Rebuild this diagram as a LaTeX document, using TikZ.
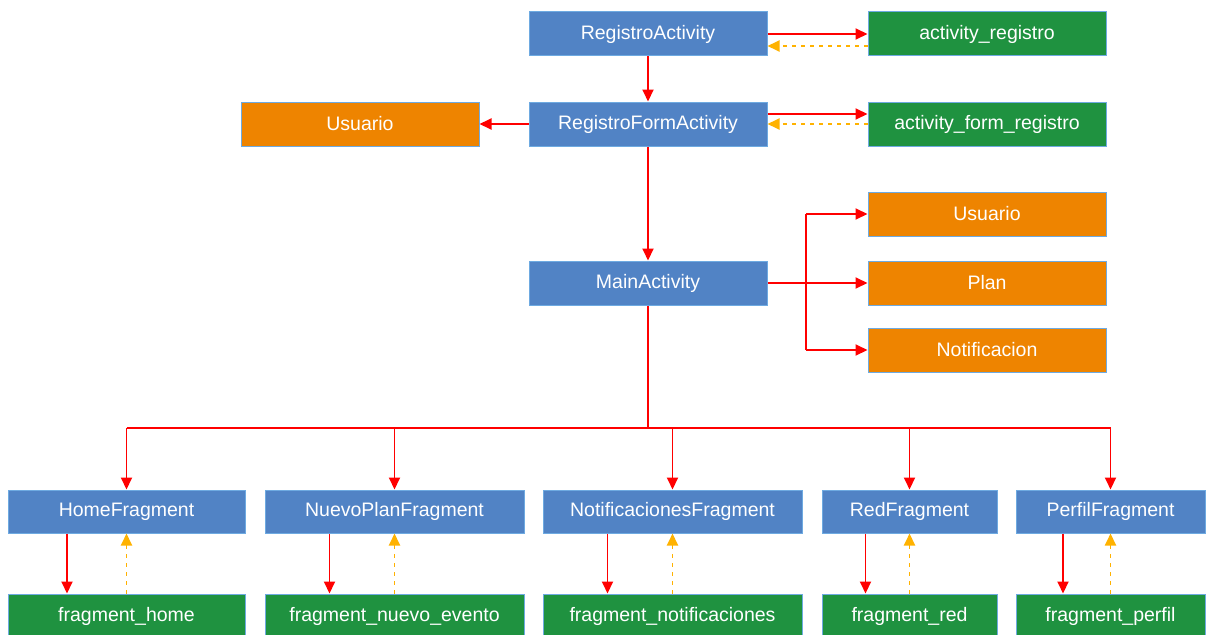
\documentclass[tikz,border=0pt]{standalone}
\usepackage{fontspec}
\setmainfont{Liberation Sans}
\usetikzlibrary{calc,arrows.meta}
\definecolor{cblue}{RGB}{81,131,197}
\definecolor{cgreen}{RGB}{31,146,64}
\definecolor{corange}{RGB}{238,132,0}
\definecolor{cborder}{RGB}{110,170,225}
\definecolor{cred}{RGB}{255,0,0}
\definecolor{camber}{RGB}{255,178,0}
\tikzset{
  box/.style={draw=cborder, line width=1pt, minimum height=44pt, inner sep=0pt,
    text=white, font=\fontsize{19.5}{22}\selectfont},
  bluebox/.style={box, fill=cblue},
  greenbox/.style={box, fill=cgreen},
  orangebox/.style={box, fill=corange},
  redline/.style={draw=cred, line width=1.9pt},
  redarrow/.style={redline, -{Triangle[length=12pt,width=11pt]}},
  dasharrow/.style={draw=camber, line width=1.9pt, dash pattern=on 4pt off 5pt, -{Triangle[length=12pt,width=11pt]}},
}
\begin{document}
\begin{tikzpicture}[x=1pt,y=-1pt]
\useasboundingbox (0,0) rectangle (1214,634);
% top section
\node[bluebox, minimum width=238pt] (ra) at (648,34) {RegistroActivity};
\node[greenbox, minimum width=238pt] (ar) at (987,34) {activity\_registro};
\node[bluebox, minimum width=238pt] (rfa) at (648,124) {RegistroFormActivity};
\node[orangebox, minimum width=238pt] (usu1) at (360,124) {Usuario};
\node[greenbox, minimum width=238pt] (afr) at (987,124) {activity\_form\_registro};
\node[bluebox, minimum width=238pt] (main) at (648,283) {MainActivity};
\node[orangebox, minimum width=238pt] (usu2) at (987,214) {Usuario};
\node[orangebox, minimum width=238pt] (plan) at (987,283) {Plan};
\node[orangebox, minimum width=238pt] (notif) at (987,350) {Notificacion};
% fragments
\node[bluebox, minimum width=237pt, minimum height=43pt] (home) at (126.5,511.5) {HomeFragment};
\node[bluebox, minimum width=259pt, minimum height=43pt] (nuevo) at (394.5,511.5) {NuevoPlanFragment};
\node[bluebox, minimum width=259pt, minimum height=43pt] (notf) at (672.5,511.5) {NotificacionesFragment};
\node[bluebox, minimum width=175pt, minimum height=43pt] (red) at (909.5,511.5) {RedFragment};
\node[bluebox, minimum width=189pt, minimum height=43pt] (perfil) at (1110.5,511.5) {PerfilFragment};
\node[greenbox, minimum width=237pt] (fhome) at (126.5,616) {fragment\_home};
\node[greenbox, minimum width=259pt] (fnuevo) at (394.5,616) {fragment\_nuevo\_evento};
\node[greenbox, minimum width=259pt] (fnotf) at (672.5,616) {fragment\_notificaciones};
\node[greenbox, minimum width=175pt] (fred) at (909.5,616) {fragment\_red};
\node[greenbox, minimum width=189pt] (fperfil) at (1110.5,616) {fragment\_perfil};
% connectors top
\draw[redarrow] (ra.east) -- (ar.west);
\draw[dasharrow] ([yshift=-12pt]ar.west) -- ([yshift=-12pt]ra.east);
\draw[redarrow] (ra.south) -- (rfa.north);
\draw[redarrow] ([yshift=10pt]rfa.east) -- ([yshift=10pt]afr.west);
\draw[dasharrow] (afr.west) -- (rfa.east);
\draw[redarrow] (rfa.west) -- (usu1.east);
\draw[redarrow] (rfa.south) -- (main.north);
% main to models
\coordinate (tr) at (806,283);
\draw[redarrow] (main.east) -- (plan.west);
\draw[redline] (tr |- usu2.west) -- (tr |- notif.west);
\draw[redarrow] (tr |- usu2.west) -- (usu2.west);
\draw[redarrow] (tr |- notif.west) -- (notif.west);
% bus
\coordinate (bus) at (648,428);
\draw[redline] (main.south) -- (bus);
\draw[redline] (home.north |- bus) -- (perfil.north |- bus);
\foreach \n in {home,nuevo,notf,red,perfil}{
  \draw[redarrow] (\n.north |- bus) -- (\n.north);
}
\foreach \a/\b in {home/fhome,nuevo/fnuevo,notf/fnotf,red/fred,perfil/fperfil}{
  \draw[redarrow] ($(\a.south west)!0.25!(\a.south east)$) -- ($(\b.north west)!0.25!(\b.north east)$);
  \draw[dasharrow] (\b.north) -- (\a.south);
}
\end{tikzpicture}
\end{document}
